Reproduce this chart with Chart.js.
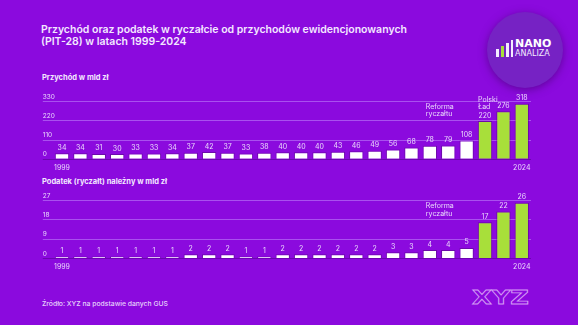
<!DOCTYPE html>
<html>
<head>
<meta charset="utf-8">
<script src="https://cdn.jsdelivr.net/npm/chart.js@4.4.1/dist/chart.umd.min.js"></script>
<style>
    body { margin: 0; background: #8b0ade; }
    #wrap { position: relative; width: 578px; height: 325px; background: #8b0ade; overflow: hidden; font-family: Inter, sans-serif; }
    canvas { position: absolute; left: 0; top: 0; }
    .txt { position: absolute; white-space: nowrap; color: #f3e8ff; }
    .logo { position: absolute; left: 487px; top: 12px; width: 76px; height: 76px; border-radius: 50%; background: #7622c4; box-shadow: 0 2px 8px rgba(60, 0, 100, 0.55); }
    .lb { position: absolute; background: #f4ecff; }
</style>
</head>
<body>
<div id="wrap">
    <div class="txt" style="left:41px;top:24px;font-size:10.5px;font-weight:600;line-height:11.7px;">Przychód oraz podatek w ryczałcie od przychodów ewidencjonowanych<br>(PIT-28) w latach 1999-2024</div>
    <div class="txt" style="left:42px;top:73px;font-size:7.5px;font-weight:700;line-height:10px;">Przychód w mld zł</div>
    <div class="txt" style="left:42px;top:177px;font-size:7.5px;font-weight:700;line-height:10px;">Podatek (ryczałt) należny w mld zł</div>
    <div class="txt" style="left:42px;top:299px;font-size:6.8px;font-weight:500;line-height:10px;color:#e6d2fb;">Źródło: XYZ na podstawie danych GUS</div>

    <div class="logo"></div>
    <div class="lb" style="left:496px;top:49px;width:3px;height:8px;"></div>
    <div class="lb" style="left:501px;top:46px;width:3px;height:11px;background:#a8df3a;"></div>
    <div class="lb" style="left:506px;top:43px;width:3px;height:14px;"></div>
    <div class="lb" style="left:511px;top:40px;width:2px;height:17px;"></div>
    <div class="txt" style="left:515px;top:38px;font-family:'DejaVu Sans';font-size:11px;font-weight:700;line-height:11px;color:#fff;">NANO</div>
    <div class="txt" style="left:515px;top:49px;font-family:'DejaVu Sans';font-size:8px;line-height:10px;color:#f4ecff;">ANALIZA</div>

    <div class="txt" style="left:472px;top:286px;font-family:'DejaVu Sans';font-size:19px;font-weight:700;line-height:22px;color:transparent;-webkit-text-stroke:0.8px #d49cf5;transform:scaleX(1.35);transform-origin:left top;">XYZ</div>

    <canvas id="incomeChart" width="578" height="325"></canvas>
    <canvas id="taxChart" width="578" height="325"></canvas>
</div>

<script>
    const years = [1999, 2000, 2001, 2002, 2003, 2004, 2005, 2006, 2007, 2008, 2009, 2010, 2011, 2012,
        2013, 2014, 2015, 2016, 2017, 2018, 2019, 2020, 2021, 2022, 2023, 2024];
    const incomeValues = [34, 34, 31, 30, 33, 33, 34, 37, 42, 37, 33, 38, 40, 40,
        40, 43, 46, 49, 56, 68, 78, 79, 108, 220, 276, 318];
    const taxValues = [1, 1, 1, 1, 1, 1, 1, 2, 2, 2, 1, 1, 2, 2,
        2, 2, 2, 2, 3, 3, 4, 4, 5, 17, 22, 26];
    const incomeTicks = [0, 110, 220, 330];
    const taxTicks = [0, 9, 18, 27];
    const shownYears = [1999, 2024];
    const highlightFrom = 2022;

    const WHITE = '#ffffff';
    const GREEN = '#a8df3a';
    const TEXT = '#ead8fc';

    const barLabels = {
        id: 'barLabels',
        afterDatasetsDraw(chart, args, opts) {
            const { ctx, chartArea } = chart;
            const xScale = chart.scales.x;
            const meta = chart.getDatasetMeta(0);
            const values = chart.data.datasets[0].data;

            ctx.save();
            ctx.font = '7px Inter';
            ctx.fillStyle = TEXT;
            ctx.textAlign = 'center';
            ctx.textBaseline = 'middle';
            meta.data.forEach((bar, i) => {
                ctx.fillText(values[i], bar.x, bar.y - 5.5);
            });

            ctx.textAlign = 'left';
            (opts.notes || []).forEach(note => {
                const x = xScale.getPixelForValue(note.index) + note.dx;
                let y;
                if (note.fromBar) {
                    y = meta.data[note.index].y + note.dy;
                } else {
                    y = chartArea.top + note.dy;
                }
                note.lines.forEach((line, k) => {
                    ctx.fillText(line, x, y + k * 7.5);
                });
            });
            ctx.restore();
        }
    };

    function createBarChart(canvasId, values, tickValues, padTop, padBottom, notes) {
        const colors = years.map(y => (y >= highlightFrom ? GREEN : WHITE));
        const top = tickValues[tickValues.length - 1];

        return new Chart(document.getElementById(canvasId), {
            type: 'bar',
            data: {
                labels: years.map(String),
                datasets: [{
                    data: values,
                    backgroundColor: colors,
                    borderColor: 'rgba(85, 10, 130, 0.55)',
                    borderWidth: 1,
                    barPercentage: 0.78,
                    categoryPercentage: 1
                }]
            },
            options: {
                responsive: false,
                devicePixelRatio: 1,
                animation: false,
                layout: {
                    padding: { left: 42.8, right: 47, top: padTop, bottom: padBottom }
                },
                plugins: {
                    legend: { display: false },
                    tooltip: { enabled: false },
                    barLabels: { notes: notes }
                },
                scales: {
                    x: {
                        afterFit: s => { s.height = 14; },
                        border: { display: false },
                        grid: { display: false, drawTicks: false },
                        ticks: {
                            autoSkip: false,
                            maxRotation: 0,
                            padding: 4,
                            font: { size: 7, family: 'Inter' },
                            color: TEXT,
                            callback: function (value, index) {
                                const y = years[index];
                                return shownYears.includes(y) ? String(y) : '';
                            }
                        }
                    },
                    y: {
                        min: 0,
                        max: top,
                        afterFit: s => { s.width = 10; },
                        afterBuildTicks: s => { s.ticks = tickValues.map(v => ({ value: v })); },
                        border: { display: false },
                        grid: {
                            drawTicks: true,
                            tickLength: 10,
                            lineWidth: 1,
                            color: ctx => (ctx.tick && ctx.tick.value === 0 ? 'rgba(70, 0, 120, 0.45)' : 'rgba(200, 150, 255, 0.5)')
                        },
                        ticks: {
                            mirror: true,
                            padding: -10,
                            labelOffset: -5,
                            font: { size: 6.5, family: 'Inter' },
                            color: TEXT
                        }
                    }
                }
            },
            plugins: [barLabels]
        });
    }

    document.addEventListener('DOMContentLoaded', () => {
        createBarChart('incomeChart', incomeValues, incomeTicks, 101.7, 151.7, [
            { lines: ['Reforma', 'ryczałtu'], index: 20, dx: -4, dy: 5 },
            { lines: ['Polski', 'Ład'], index: 23, dx: -7, dy: -21.5, fromBar: true }
        ]);
        createBarChart('taxChart', taxValues, taxTicks, 200.7, 52.4, [
            { lines: ['Reforma', 'ryczałtu'], index: 20, dx: -4, dy: 5.3 }
        ]);
    });
</script>
</body>
</html>
